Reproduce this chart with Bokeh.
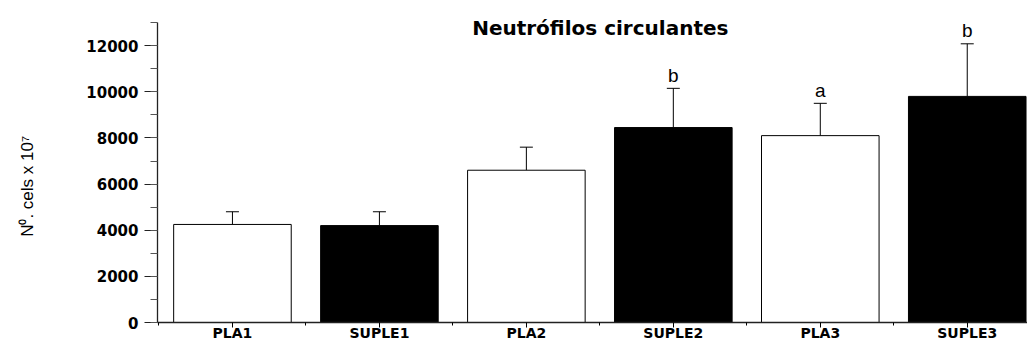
import math
from bokeh.plotting import figure
from bokeh.layouts import row
from bokeh.models import Range1d, FixedTicker, Label, Whisker, ColumnDataSource, TeeHead
from bokeh.core.properties import value
from bokeh.embed import file_html
from bokeh.resources import INLINE

# ---- data ----
categories = ["PLA1", "SUPLE1", "PLA2", "SUPLE2", "PLA3", "SUPLE3"]
means = [4250, 4200, 6600, 8450, 8100, 9800]
errors = [550, 600, 1000, 1700, 1400, 2280]
letters = ["", "", "", "b", "a", "b"]
fills = ["white", "black", "white", "black", "white", "black"]
y_ticks = [0, 2000, 4000, 6000, 8000, 10000, 12000]
y_minor = list(range(0, 13001, 1000))
title_text = "Neutrófilos circulantes"
y_label_text = "N⁰. cels x 10⁷"

xs = list(range(len(categories)))
uppers = [m + e for m, e in zip(means, errors)]

src = ColumnDataSource(dict(x=xs, top=means, upper=uppers, fill=fills, letter=letters))

# ---- left strip holding the rotated y-axis title ----
lab = figure(width=40, height=343, output_backend="svg", toolbar_location=None,
             x_range=Range1d(0, 40), y_range=Range1d(0, 343), min_border=0)
lab.axis.visible = False
lab.grid.visible = False
lab.outline_line_color = None
lab.add_layout(Label(x=27, y=145, text=y_label_text, angle=math.pi / 2,
                     text_align="center", text_baseline="middle",
                     text_font="Liberation Sans", text_font_size="17px", text_color="black"))

# ---- main plot ----
p = figure(width=987, height=343, output_backend="svg", toolbar_location=None,
           x_range=Range1d(-0.51, 5.41), y_range=Range1d(0, 13957),
           min_border_left=117, min_border_right=0, min_border_top=0, min_border_bottom=18)
p.xgrid.visible = False
p.ygrid.visible = False
p.outline_line_color = None

p.vbar(x="x", top="top", width=0.8, source=src, fill_color="fill", line_color="black", line_width=1)

w = Whisker(base="x", lower="top", upper="upper", source=src, dimension="height",
            line_color="black", line_width=1,
            upper_head=TeeHead(size=13, line_color="black", line_width=1), lower_head=None)
p.add_layout(w)

p.text(x="x", y="upper", text="letter", source=src, text_align="center", text_baseline="alphabetic",
       y_offset=-13, text_font=value("Liberation Sans"), text_font_size="19px", text_color="black")

# axes
p.yaxis.ticker = FixedTicker(ticks=y_ticks, minor_ticks=y_minor)
p.yaxis.bounds = (0, 13000)
p.yaxis.major_tick_out = 13
p.yaxis.major_tick_in = 0
p.yaxis.minor_tick_out = 7
p.yaxis.minor_tick_in = 0
p.yaxis.major_label_standoff = 6
p.yaxis.major_label_text_font = "DejaVu Sans"
p.yaxis.major_label_text_font_style = "bold"
p.yaxis.major_label_text_font_size = "15px"
p.yaxis.major_label_text_color = "black"
p.yaxis.axis_line_color = "#222222"
p.yaxis.axis_line_width = 1.3
p.yaxis.major_tick_line_color = "#222222"
p.yaxis.minor_tick_line_color = "#555555"

p.xaxis.ticker = FixedTicker(ticks=xs, minor_ticks=[i - 0.5 for i in range(len(categories) + 1)])
p.xaxis.major_label_overrides = {i: c for i, c in zip(xs, categories)}
p.xaxis.major_tick_out = 5
p.xaxis.major_tick_in = 0
p.xaxis.minor_tick_out = 3
p.xaxis.minor_tick_in = 0
p.xaxis.major_label_standoff = -3
p.xaxis.major_label_text_font = "DejaVu Sans"
p.xaxis.major_label_text_font_style = "bold"
p.xaxis.major_label_text_font_size = "14px"
p.xaxis.major_label_text_color = "black"
p.xaxis.axis_line_color = "#222222"
p.xaxis.axis_line_width = 1.3

p.add_layout(Label(x=2.503, y=12771, text=title_text, text_align="center", text_baseline="alphabetic",
                   text_font="DejaVu Sans", text_font_style="bold", text_font_size="20px",
                   text_color="black"))

layout = row(lab, p, spacing=0)
open("out.html", "w").write(file_html(layout, INLINE))
